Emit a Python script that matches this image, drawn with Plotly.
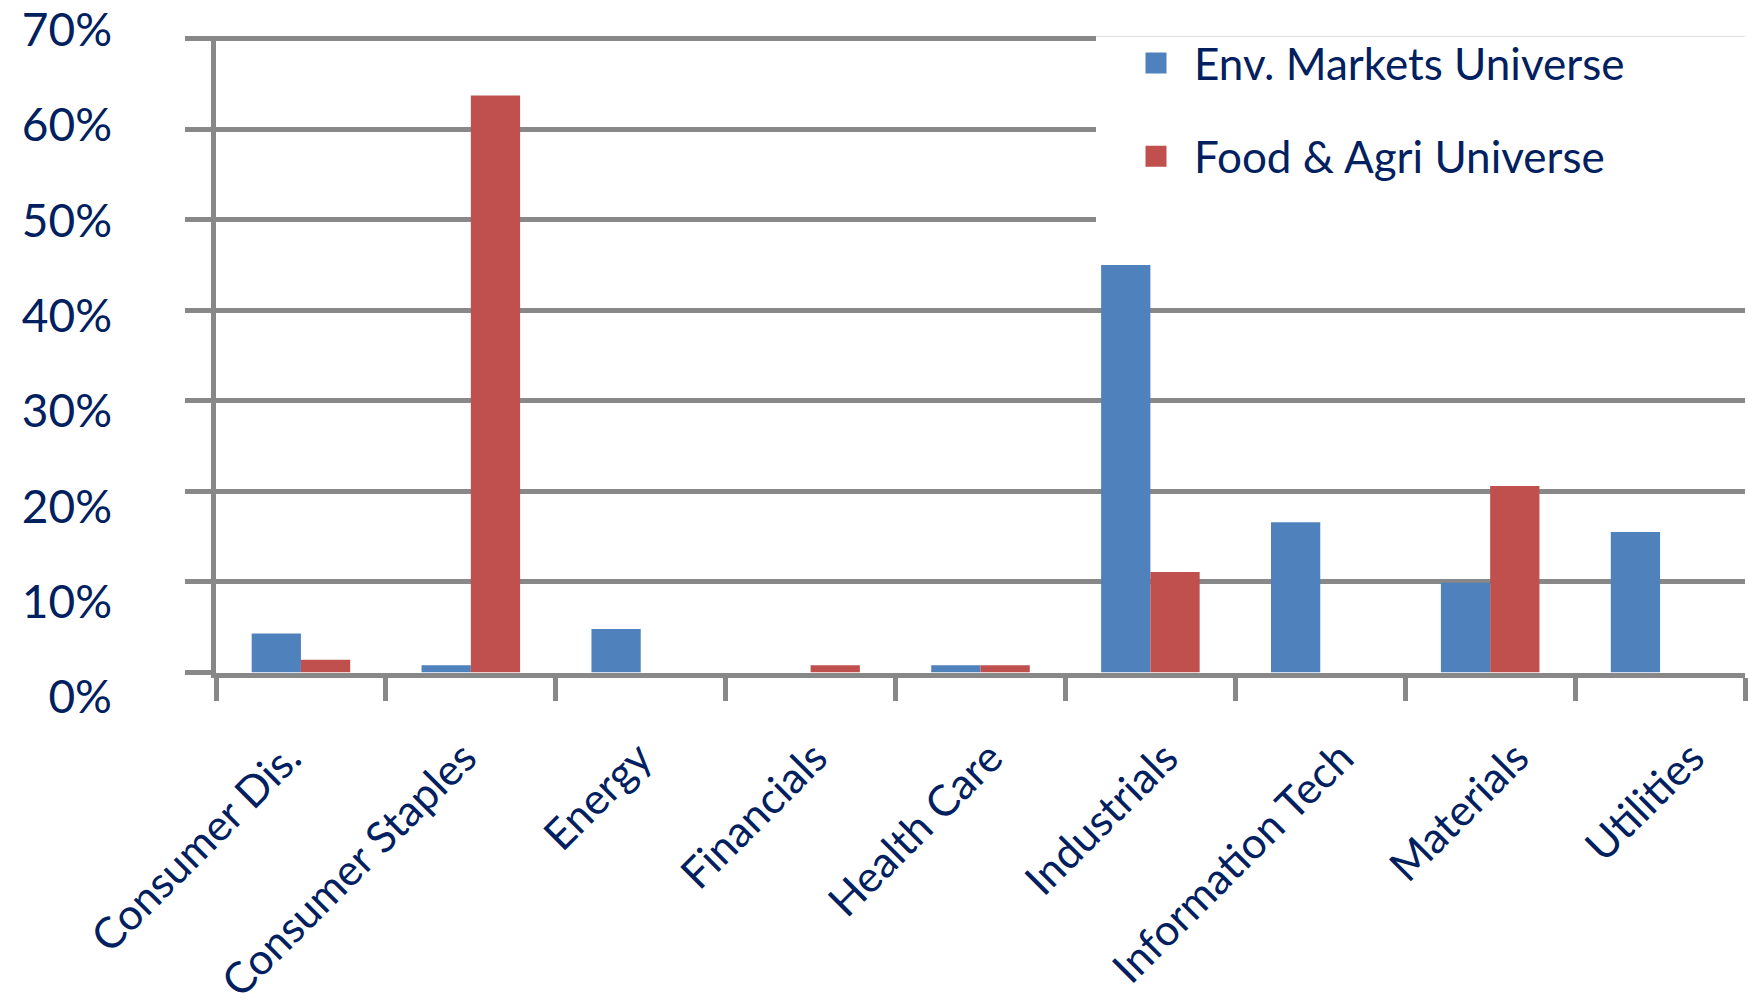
import plotly.graph_objects as go

categories = ["Consumer Dis.", "Consumer Staples", "Energy", "Financials", "Health Care",
              "Industrials", "Information Tech", "Materials", "Utilities"]
env_markets = [4.3, 0.8, 4.8, 0.0, 0.8, 45.0, 16.6, 9.9, 15.5]
food_agri = [1.4, 63.7, 0.0, 0.8, 0.8, 11.1, 0.0, 20.6, 0.0]
series_names = ["Env. Markets Universe", "Food & Agri Universe"]
y_ticks = [0, 10, 20, 30, 40, 50, 60, 70]
y_tick_labels = [f"{v}%" for v in y_ticks]

BLUE = "#4F81BD"
RED = "#C0504D"
NAVY = "#002060"
GRID = "#888888"
FONT = "Lato"

W, H = 1748, 1008
ML, MR, MT, MB = 0, 3, 0, 308
PW = W - ML - MR
PH = H - MT - MB

PLOT_L, PLOT_R, PLOT_B = 216, 1745, 672.5
CAT_W = (PLOT_R - PLOT_L) / len(categories)
PX_PER_PCT = (672.5 - 38.5) / 70
Y_TOP = 70.25
PLOT_T = PLOT_B - Y_TOP * PX_PER_PCT

# label axis (category labels), slightly wider spacing as in the reference
LBL_STEP = 175.4
LBL_C0 = 288.5
LBL_R0 = -(LBL_C0 - PLOT_L) / LBL_STEP
LBL_R1 = LBL_R0 + (PLOT_R - PLOT_L) / LBL_STEP


def fx(px):
    return (px - ML) / PW


def fy(py):
    return (H - MB - py) / PH


fig = go.Figure()
for name, vals, col, grp in [(series_names[0], env_markets, BLUE, "a"),
                             (series_names[1], food_agri, RED, "b")]:
    fig.add_trace(go.Bar(x=categories, y=vals, name=name, showlegend=False,
                         marker=dict(color=col, line=dict(width=0)), legendgroup=grp))
    # legend entry (larger square key, as in the reference)
    fig.add_trace(go.Scatter(x=[None], y=[None], name=name, mode="markers",
                             legendgroup=grp, hoverinfo="skip",
                             marker=dict(symbol="square", size=16, color=col,
                                         line=dict(color=col, width=5))))

# helper trace so the label axes are drawn
fig.add_trace(go.Scatter(x=categories, y=[None] * len(categories), xaxis="x2", yaxis="y2",
                         showlegend=False, hoverinfo="skip", mode="markers"))

fig.update_layout(
    template="none",
    width=W, height=H,
    margin=dict(l=ML, r=MR, t=MT, b=MB, pad=0),
    paper_bgcolor="white",
    plot_bgcolor="rgba(0,0,0,0)",
    barmode="group",
    bargap=0.42,
    bargroupgap=0,
    font=dict(family=FONT, color=NAVY),
    xaxis=dict(
        domain=[fx(PLOT_L), fx(PLOT_R)],
        type="category",
        categoryorder="array", categoryarray=categories,
        range=[-0.5, len(categories) - 0.5],
        tickson="boundaries",
        ticks="outside", ticklen=23, tickwidth=5, tickcolor=GRID,
        showline=True, linewidth=5, linecolor=GRID,
        showgrid=False, zeroline=False,
        showticklabels=False,
        automargin=False,
        anchor="y",
    ),
    xaxis2=dict(
        domain=[fx(PLOT_L), fx(PLOT_R)],
        type="category",
        categoryorder="array", categoryarray=categories,
        range=[LBL_R0, LBL_R1],
        ticks="",
        showline=False, showgrid=False, zeroline=False,
        tickangle=-45,
        ticklabelstandoff=26,
        tickfont=dict(family=FONT, size=43, color=NAVY),
        automargin=False,
        anchor="y2",
    ),
    yaxis=dict(
        domain=[fy(PLOT_B), fy(PLOT_T)],
        range=[0, Y_TOP],
        tickvals=y_ticks,
        showticklabels=False,
        ticks="outside", ticklen=26, tickwidth=4.5, tickcolor=GRID,
        showline=True, linewidth=5, linecolor=GRID,
        showgrid=True, gridcolor=GRID, gridwidth=4.5,
        zeroline=False,
        automargin=False,
        anchor="x",
    ),
    yaxis2=dict(
        domain=[fy(697), fy(30)],
        range=[0, 70],
        tickvals=y_ticks,
        ticktext=y_tick_labels,
        ticks="",
        showline=False, showgrid=False, zeroline=False,
        tickfont=dict(family=FONT, size=46, color=NAVY),
        anchor="free",
        position=fx(112),
        side="left",
        automargin=False,
    ),
    showlegend=True,
    legend=dict(
        x=fx(1118), y=fy(28), xanchor="left", yanchor="top",
        bgcolor="rgba(0,0,0,0)",
        borderwidth=0,
        itemwidth=66,
        itemsizing="trace",
        font=dict(family=FONT, size=44, color=NAVY),
        tracegroupgap=33,
        traceorder="grouped",
    ),
    shapes=[dict(
        type="rect", xref="x", yref="y",
        x0=(1096 - PLOT_L) / CAT_W - 0.5, x1=len(categories),
        y0=(PLOT_B - 245) / PX_PER_PCT, y1=Y_TOP + 1,
        fillcolor="white", line=dict(width=0), layer="between",
    )],
)

fig.write_html("out.html")
